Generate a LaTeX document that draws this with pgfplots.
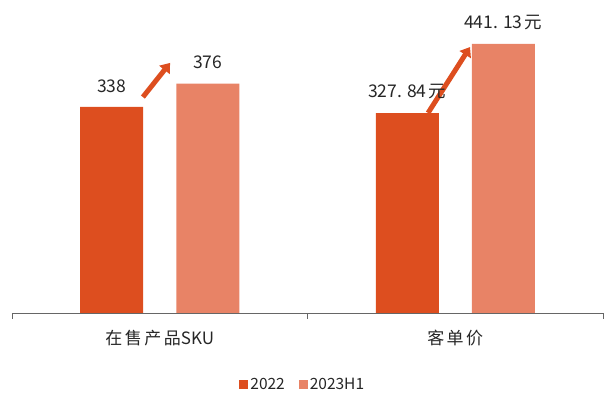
\documentclass[border=0pt]{standalone}
\usepackage{fontspec}
\setmainfont{Noto Sans CJK SC}
\usepackage{pgfplots}
\pgfplotsset{compat=1.18}
\usetikzlibrary{arrows.meta}
\definecolor{c22}{RGB}{221,78,31}
\definecolor{c23}{RGB}{232,131,102}
\begin{document}
\begin{tikzpicture}[x=1pt,y=1pt]
\useasboundingbox (-12,-85) rectangle (594,313);
\begin{axis}[
  at={(0,0)}, anchor=origin,
  scale only axis, width=591pt, height=305pt,
  xmin=0, xmax=2, ymin=0, ymax=500,
  ybar=33pt, bar width=63pt,
  axis y line=none,
  axis x line*=bottom,
  x axis line style={draw=gray!80!black, -},
  xtick={0.5,1.5},
  xticklabels={在\kern2.5pt 售\kern2.5pt 产\kern2.5pt 品SKU,客\kern2.5pt 单\kern2.5pt 价},
  major tick length=0pt,
  extra x ticks={0,1,2},
  extra x tick labels={},
  extra x tick style={major tick length=6pt, tick align=outside, tick style={draw=gray!80!black}},
  xticklabel style={font=\fontsize{17}{19}\selectfont, text=black!85, yshift=-14pt},
  clip=false,
  point meta=explicit symbolic,
  nodes near coords={\pgfplotspointmeta},
  nodes near coords style={font=\fontsize{17.5}{19}\selectfont, text=black!85, yshift=11pt},
  legend style={at={(0.492,-0.235)}, anchor=center, draw=none, legend columns=2,
     font=\fontsize{15.5}{17}\selectfont, text=black!85, /tikz/every even column/.append style={column sep=12pt}},
  legend image code/.code={\fill[#1] (0pt,-4.5pt) rectangle (9pt,4.5pt);},
]
\addplot[fill=c22, draw=none] coordinates {(0.5,338) [338] (1.5,327.84) [327.\kern5pt 84\kern2pt 元]};
\addplot[fill=c23, draw=none] coordinates {(0.5,376) [376] (1.5,441.13) [441.\kern5pt 13\kern2pt 元]};
\legend{2022,2023H1}
\draw[c22, line width=5pt, -{Triangle[length=9pt,width=13pt]}] (axis cs:0.443,354) -- (axis cs:0.535,410);
\draw[c22, line width=5pt, -{Triangle[length=9pt,width=13pt]}] (axis cs:1.408,328) -- (axis cs:1.550,436);
\end{axis}
\end{tikzpicture}
\end{document}
